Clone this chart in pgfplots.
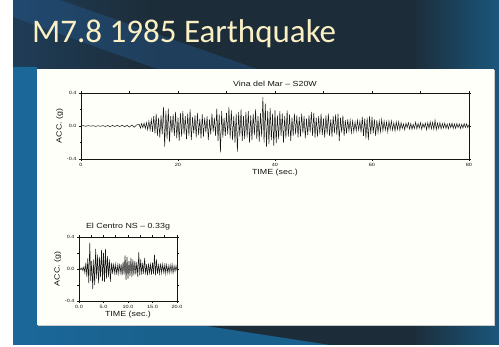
\documentclass[border=0pt]{standalone}
\usepackage{fontspec}
\setmainfont{Liberation Sans}
\newfontfamily\titlefont{Carlito}
\newfontfamily\plotfont[FakeStretch=1.2,Ligatures=TeX]{Liberation Sans}
\usepackage{pgfplots}
\pgfplotsset{compat=1.18}
\definecolor{bgdark}{RGB}{28,44,56}
\definecolor{bgleft}{RGB}{38,98,158}
\definecolor{bgright}{RGB}{24,140,210}
\definecolor{titlecol}{RGB}{250,240,195}
\definecolor{ink}{RGB}{20,20,20}
\pgfdeclarehorizontalshading{slide}{100bp}{color(0bp)=(bgleft); color(25bp)=(bgdark!70!bgleft); color(40bp)=(bgdark); color(66bp)=(bgdark); color(82bp)=(bgright!80!bgdark); color(100bp)=(bgright)}
\pgfplotstableread{
t y
0 0
0.5 0.004
1 -0.004
1.5 0.005
2 -0.003
2.5 0.004
3 -0.005
3.5 0.003
4 -0.004
4.5 0.005
5 -0.006
5.5 0.006
6 -0.008
6.5 0.007
7 -0.006
7.5 0.008
8 -0.007
8.5 0.01
9 -0.009
9.5 0.008
10 -0.012
10.5 0.012
11 -0.015
11.5 0.014
12 0.02
12.25 -0.025
12.5 0.03
12.75 -0.02
13 0.035
13.25 -0.03
13.5 0.04
13.75 -0.045
14 0.06
14.25 -0.05
14.5 0.08
14.75 -0.07
15 0.12
15.25 -0.09
15.5 0.15
15.75 -0.12
16 0.10
16.25 -0.14
16.5 0.13
16.75 -0.10
17 0.23
17.25 -0.25
17.5 0.18
17.75 -0.16
18 0.21
18.25 -0.19
18.5 0.12
18.75 -0.08
19 0.14
19.25 -0.12
19.5 0.17
19.75 -0.15
20 0.10
20.25 -0.18
20.5 0.16
20.75 -0.13
21 0.18
21.25 -0.10
21.5 0.12
21.75 -0.16
22 0.15
22.25 -0.12
22.5 0.20
22.75 -0.17
23 0.11
23.25 -0.09
23.5 0.13
23.75 -0.14
24 0.16
24.25 -0.11
24.5 0.09
24.75 -0.15
25 0.14
25.25 -0.13
25.5 0.10
25.75 -0.08
26 0.12
26.25 -0.17
26.5 0.08
26.75 -0.10
27 0.15
27.25 -0.07
27.5 0.10
27.75 -0.12
28 0.21
28.25 -0.18
28.5 0.14
28.75 -0.32
29 0.18
29.25 -0.14
29.5 0.10
29.75 -0.12
30 0.16
30.25 -0.10
30.5 0.23
30.75 -0.15
31 0.19
31.25 -0.17
31.5 0.12
31.75 -0.20
32 0.15
32.25 -0.31
32.5 0.17
32.75 -0.13
33 0.20
33.25 -0.18
33.5 0.12
33.75 -0.16
34 0.17
34.25 -0.14
34.5 0.18
34.75 -0.20
35 0.13
35.25 -0.17
35.5 0.15
35.75 -0.11
36 0.20
36.25 -0.16
36.5 0.12
36.75 -0.19
37 0.16
37.25 -0.13
37.5 0.35
37.75 -0.20
38 0.27
38.25 -0.25
38.5 0.18
38.75 -0.22
39 0.22
39.25 -0.17
39.5 0.15
39.75 -0.24
40 0.19
40.25 -0.21
40.5 0.13
40.75 -0.16
41 0.18
41.25 -0.12
41.5 0.15
41.75 -0.20
42 0.12
42.25 -0.15
42.5 0.19
42.75 -0.13
43 0.14
43.25 -0.18
43.5 0.10
43.75 -0.12
44 0.15
44.25 -0.10
44.5 0.13
44.75 -0.14
45 0.11
45.25 -0.13
45.5 0.15
45.75 -0.09
46 0.12
46.25 -0.15
46.5 0.09
46.75 -0.11
47 0.13
47.25 -0.08
47.5 0.17
47.75 -0.12
48 0.16
48.25 -0.14
48.5 0.10
48.75 -0.13
49 0.12
49.25 -0.10
49.5 0.15
49.75 -0.11
50 0.09
50.25 -0.14
50.5 0.13
50.75 -0.10
51 0.15
51.25 -0.12
51.5 0.08
51.75 -0.13
52 0.12
52.25 -0.09
52.5 0.14
52.75 -0.11
53 0.15
53.25 -0.18
53.5 0.10
53.75 -0.08
54 0.13
54.25 -0.12
54.5 0.07
54.75 -0.09
55 0.08
55.25 -0.06
55.5 0.07
55.75 -0.08
56 0.06
56.25 -0.07
56.5 0.05
56.75 -0.06
57 0.07
57.25 -0.05
57.5 0.06
57.75 -0.08
58 0.11
58.25 -0.12
58.5 0.09
58.75 -0.15
59 0.10
59.25 -0.17
59.5 0.12
59.75 -0.10
60 0.11
60.25 -0.09
60.5 0.08
60.75 -0.12
61 0.07
61.25 -0.08
61.5 0.06
61.75 -0.07
62 0.08
62.25 -0.06
62.5 0.06
62.75 -0.05
63 0.05
63.25 -0.07
63.5 0.06
63.75 -0.04
64 0.06
64.25 -0.05
64.5 0.04
64.75 -0.06
65 0.05
65.25 -0.04
65.5 0.05
65.75 -0.05
66 0.04
66.25 -0.03
66.5 0.025
66.75 -0.045
67 0.035
67.25 -0.02
67.5 0.04
67.75 -0.035
68 0.03
68.25 -0.04
68.5 0.02
68.75 -0.03
69 0.045
69.25 -0.035
69.5 0.03
69.75 -0.025
70 0.04
70.25 -0.04
70.5 0.03
70.75 -0.02
71 0.035
71.25 -0.045
71.5 0.04
71.75 -0.03
72 0.05
72.25 -0.035
72.5 0.045
72.75 -0.04
73 0.07
73.25 -0.045
73.5 0.035
73.75 -0.03
74 0.04
74.25 -0.035
74.5 0.03
74.75 -0.025
75 0.035
75.25 -0.03
75.5 0.025
75.75 -0.035
76 0.03
76.25 -0.02
76.5 0.035
76.75 -0.03
77 0.025
77.25 -0.03
77.5 0.03
77.75 -0.02
78 0.025
78.25 -0.03
78.5 0.02
78.75 -0.025
79 0.03
79.25 -0.02
79.5 0.025
79.75 -0.02
80 0.015
}\vinadata
\pgfplotstableread{
t y
0.0 0
0.2 0.01
0.4 -0.01
0.6 0.015
0.8 -0.02
1.0 0.03
1.2 -0.05
1.4 0.08
1.6 -0.10
1.8 0.14
2.0 -0.18
2.2 0.33
2.4 -0.15
2.6 0.10
2.8 -0.25
3.0 0.12
3.2 -0.20
3.4 0.25
3.6 -0.12
3.8 0.18
4.0 -0.18
4.2 0.15
4.4 -0.10
4.6 0.24
4.8 -0.15
5.0 0.20
5.2 -0.16
5.4 0.25
5.6 -0.12
5.8 0.16
6.0 -0.10
6.2 0.12
6.4 -0.16
6.6 0.08
6.8 -0.06
7.0 0.07
7.2 -0.05
7.4 0.06
7.6 -0.07
7.8 0.05
8.0 -0.06
8.2 0.07
8.4 -0.05
8.6 0.06
8.8 -0.08
9.0 0.09
9.2 -0.07
9.4 0.17
9.6 -0.14
9.8 0.15
10.0 -0.12
10.2 0.10
10.4 -0.09
10.6 0.14
10.8 -0.10
11.0 0.12
11.2 -0.08
11.4 0.10
11.6 -0.07
11.8 0.09
12.0 -0.10
12.2 0.21
12.4 -0.08
12.6 0.12
12.8 -0.07
13.0 0.08
13.2 -0.06
13.4 0.14
13.6 -0.07
13.8 0.06
14.0 -0.08
14.2 0.07
14.4 -0.05
14.6 0.06
14.8 -0.07
15.0 0.08
15.2 -0.06
15.4 0.18
15.6 -0.08
15.8 0.12
16.0 -0.06
16.2 0.05
16.4 -0.06
16.6 0.07
16.8 -0.05
17.0 0.06
17.2 -0.04
17.4 0.05
17.6 -0.06
17.8 0.07
18.0 -0.05
18.2 0.04
18.4 -0.05
18.6 0.05
18.8 -0.04
19.0 0.06
19.2 -0.05
19.4 0.04
19.6 -0.03
19.8 0.04
20.0 -0.02
}\centrodata
\pgfplotsset{
  seis/.style={
    scale only axis, anchor=north west,
    ymin=-0.4, ymax=0.4, ytick={-0.4,0,0.4}, minor y tick num=1,
    tick align=outside, major tick length=2pt, minor tick length=1.5pt,
    axis line style={line width=0.9pt, ink}, every tick/.style={ink, line width=0.6pt},
    /pgf/number format/assume math mode=true,
    yticklabel style={font=\plotfont\fontsize{4.6}{5}\selectfont, ink, /pgf/number format/fixed,/pgf/number format/fixed zerofill,/pgf/number format/precision=1, xshift=1pt},
    xticklabel style={font=\plotfont\fontsize{4.6}{5}\selectfont, ink, yshift=1.5pt},
    title style={font=\plotfont\fontsize{7.4}{8}\selectfont, ink, yshift=-3pt},
    xlabel style={font=\plotfont\fontsize{7.4}{8}\selectfont, ink, yshift=4.5pt},
    ylabel style={font=\plotfont\fontsize{7.4}{8}\selectfont, ink, yshift=-3pt},
  }
}
\begin{document}
\begin{tikzpicture}[x=1pt,y=1pt]
\useasboundingbox (0,0) rectangle (499,347);
\fill[white] (0,0) rectangle (499,347);
\shade[shading=slide] (13,2) rectangle (499,347);
\fill[bgleft, opacity=0.35] (13,347) -- (13,330) -- (160,277) -- (260,277) -- (60,347) -- cycle;
\fill[bgright, opacity=0.55] (13,2) -- (13,280) -- (37,280) -- (37,22) -- (200,22) -- (330,2) -- cycle;
\node[anchor=base west, text=titlecol, font=\titlefont\fontsize{33}{33}\selectfont, inner sep=0pt] at (32,304) {M7.8 1985 Earthquake};
\fill[black!20] (38,21) rectangle (495,277);
\fill[white!98!yellow] (37,22) rectangle (494,278);
\begin{axis}[seis, at={(81pt,254pt)}, width=388pt, height=66pt,
  xmin=0, xmax=80, xtick={0,20,40,60,80}, minor x tick num=1,
  title={Vina del Mar \textendash\ S20W}, xlabel={TIME (sec.)}, ylabel={ACC. (g)}]
\addplot[ink, line width=0.5pt, mark=none] table[x=t,y=y] {\vinadata};
\end{axis}
\begin{axis}[seis, at={(79pt,110pt)}, width=98pt, height=64pt,
  xmin=0, xmax=20, xtick={0,5,10,15,20}, minor x tick num=1,
  xticklabel style={/pgf/number format/fixed,/pgf/number format/fixed zerofill,/pgf/number format/precision=1},
  title={El Centro NS \textendash\ 0.33g}, xlabel={TIME (sec.)}, ylabel={ACC. (g)}]
\addplot[ink, line width=0.5pt, mark=none] table[x=t,y=y] {\centrodata};
\end{axis}
\end{tikzpicture}
\end{document}
